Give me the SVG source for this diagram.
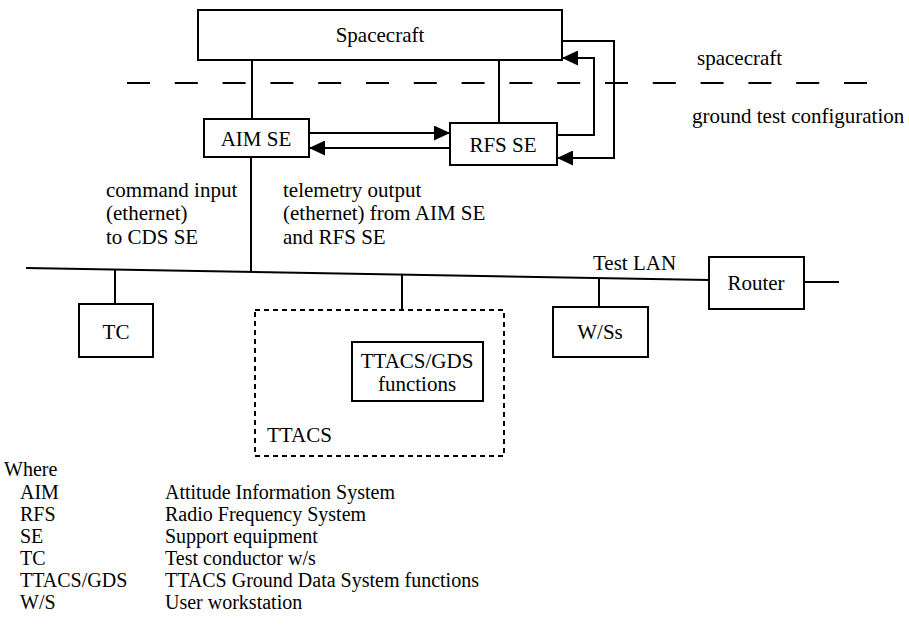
<svg xmlns="http://www.w3.org/2000/svg" width="909" height="634" viewBox="0 0 909 634">
<style>
.box{fill:#fff;stroke:#000;stroke-width:2}
.ln{fill:none;stroke:#000;stroke-width:2}
.dash{fill:none;stroke:#000;stroke-width:2;stroke-dasharray:23 24.8}
.dbox{fill:none;stroke:#000;stroke-width:2;stroke-dasharray:5 4}
text{font-family:"Liberation Serif","Times New Roman",serif;font-size:21px;fill:#000}
.c{text-anchor:middle}
.lg{font-size:20px}
</style>
<defs>
<marker id="ah" markerWidth="16" markerHeight="15" refX="16" refY="7.5" orient="auto" markerUnits="userSpaceOnUse">
<path d="M0,0 L16,7.5 L0,15 Z" fill="#000"/>
</marker>
</defs>
<rect width="909" height="634" fill="#fff"/>
<line class="dash" x1="127" y1="83" x2="872" y2="83"/>
<g id="connectors">
<line class="ln" x1="252" y1="60" x2="252" y2="119"/>
<line class="ln" x1="499" y1="60" x2="499" y2="123"/>
<line class="ln" x1="309" y1="133" x2="450" y2="133" marker-end="url(#ah)"/>
<line class="ln" x1="450" y1="148" x2="309" y2="148" marker-end="url(#ah)"/>
<polyline class="ln" points="557,135 594,135 594,58 562,58" marker-end="url(#ah)"/>
<polyline class="ln" points="562,41 614,41 614,158 557,158" marker-end="url(#ah)"/>
<line class="ln" x1="251" y1="157" x2="251" y2="272"/>
<line class="ln" x1="26" y1="268" x2="709" y2="280"/>
<line class="ln" x1="115" y1="270" x2="115" y2="304"/>
<line class="ln" x1="402" y1="275" x2="402" y2="310"/>
<line class="ln" x1="599" y1="278" x2="599" y2="307"/>
<line class="ln" x1="804" y1="282" x2="839" y2="282"/>
</g>
<g id="spacecraft">
<rect class="box" x="198" y="10" width="364" height="50"/>
<text class="c" x="380" y="42">Spacecraft</text>
</g>
<g id="aim-se">
<rect class="box" x="204" y="119" width="105" height="38"/>
<text class="c" x="256" y="146">AIM SE</text>
</g>
<g id="rfs-se">
<rect class="box" x="450" y="123" width="107" height="42"/>
<text class="c" x="503" y="152">RFS SE</text>
</g>
<g id="tc">
<rect class="box" x="79" y="304" width="74" height="53"/>
<text class="c" x="116" y="339">TC</text>
</g>
<g id="ttacs">
<rect class="dbox" x="255" y="310" width="249" height="146"/>
<text x="267" y="442">TTACS</text>
</g>
<g id="ttacs-gds">
<rect class="box" x="352" y="342" width="131" height="59"/>
<text class="c" x="417" y="368">TTACS/GDS</text>
<text class="c" x="417" y="391">functions</text>
</g>
<g id="wss">
<rect class="box" x="553" y="307" width="95" height="50"/>
<text class="c" x="600" y="339">W/Ss</text>
</g>
<g id="router">
<rect class="box" x="709" y="257" width="95" height="52"/>
<text class="c" x="756" y="290">Router</text>
</g>
<g id="labels">
<text x="697" y="65">spacecraft</text>
<text x="692" y="123">ground test configuration</text>
<text x="106" y="197">command input</text>
<text x="106" y="220">(ethernet)</text>
<text x="106" y="244">to CDS SE</text>
<text x="283" y="197">telemetry output</text>
<text x="283" y="220">(ethernet) from AIM SE</text>
<text x="283" y="244">and RFS SE</text>
<text x="593" y="270">Test LAN</text>
</g>
<g id="legend" class="lg">
<text class="lg" x="4" y="476">Where</text>
<text class="lg" x="20" y="499">AIM</text>
<text class="lg" x="20" y="521">RFS</text>
<text class="lg" x="20" y="543">SE</text>
<text class="lg" x="20" y="565">TC</text>
<text class="lg" x="20" y="587">TTACS/GDS</text>
<text class="lg" x="20" y="609">W/S</text>
<text class="lg" x="165" y="499">Attitude Information System</text>
<text class="lg" x="165" y="521">Radio Frequency System</text>
<text class="lg" x="165" y="543">Support equipment</text>
<text class="lg" x="165" y="565">Test conductor w/s</text>
<text class="lg" x="165" y="587">TTACS Ground Data System functions</text>
<text class="lg" x="165" y="609">User workstation</text>
</g>
</svg>
